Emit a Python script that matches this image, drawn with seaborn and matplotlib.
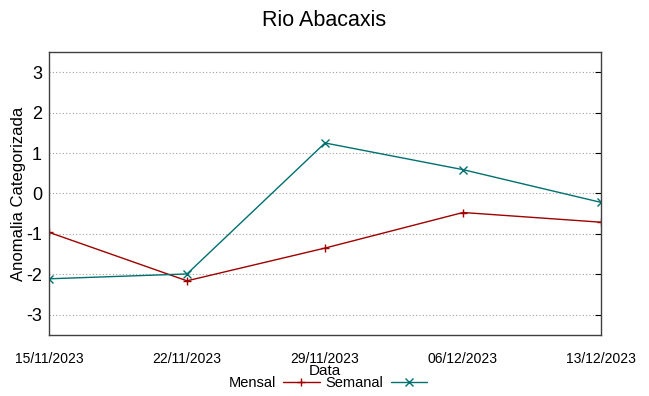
import pandas as pd
import numpy as np
import matplotlib
matplotlib.use("Agg")
import matplotlib.pyplot as plt
import matplotlib.dates as mdates
import seaborn as sns

datas = ["15/11/2023", "22/11/2023", "29/11/2023", "06/12/2023", "13/12/2023"]
mensal = [-0.96, -2.16, -1.35, -0.47, -0.71]
semanal = [-2.11, -1.99, 1.25, 0.59, -0.22]

df = pd.DataFrame({
    "Data": pd.to_datetime(datas * 2, format="%d/%m/%Y"),
    "Anomalia": mensal + semanal,
    "Serie": ["Mensal"] * len(datas) + ["Semanal"] * len(datas),
})

sns.set_style("white")
plt.rcParams["font.family"] = ["Liberation Sans", "DejaVu Sans"]
plt.rcParams["text.color"] = "black"
plt.rcParams["axes.labelcolor"] = "black"
plt.rcParams["xtick.color"] = "black"
plt.rcParams["ytick.color"] = "black"
plt.rcParams["axes.unicode_minus"] = False

fig = plt.figure(figsize=(6.49, 3.96), dpi=100)
ax = fig.add_axes([49 / 649, 1 - 335 / 396, 552 / 649, 283 / 396])

cores = {"Mensal": "#a00000", "Semanal": "#007070"}
marcas = {"Mensal": "+", "Semanal": "x"}
sns.lineplot(data=df, x="Data", y="Anomalia", hue="Serie", style="Serie",
             palette=cores, markers=marcas, dashes=False, linewidth=1,
             markersize=5.5, ax=ax, legend=False)
# marcadores "+" e "x" precisam da cor na borda
for ln in ax.get_lines():
    ln.set_markeredgecolor(ln.get_color())
    ln.set_markeredgewidth(1)

ax.set_xlim(df["Data"].min(), df["Data"].max())
ax.set_ylim(-3.5, 3.5)
ax.set_xticks(pd.to_datetime(datas, format="%d/%m/%Y"))
ax.xaxis.set_major_formatter(mdates.DateFormatter("%d/%m/%Y"))
ax.set_yticks([-3, -2, -1, 0, 1, 2, 3])
ax.tick_params(axis="x", labelsize=10, direction="in", length=4, pad=12, top=False)
ax.tick_params(axis="y", labelsize=13, direction="in", length=4, right=True, pad=5)
ax.yaxis.grid(True, linestyle=(0, (1, 2)), color="#a0a0a0", linewidth=0.8)
for s in ax.spines.values():
    s.set_color("#404040")
    s.set_linewidth(1)

ax.set_xlabel("Data", fontsize=11, labelpad=-1)
ax.set_ylabel("Anomalia Categorizada", fontsize=12, labelpad=0)
fig.suptitle("Rio Abacaxis", fontsize=15.5, y=0.975)

handles = [plt.Line2D([], [], color=cores[k], marker=marcas[k], linewidth=1,
                      markersize=5.5) for k in ["Mensal", "Semanal"]]
fig.legend(handles, ["Mensal", "Semanal"], loc="center", bbox_to_anchor=(0.505, 0.032),
           ncol=2, frameon=False, markerfirst=False, fontsize=10.5,
           handlelength=2.5, handletextpad=0.5, columnspacing=0.4, borderpad=0)

fig.savefig("out.png", dpi=100)
